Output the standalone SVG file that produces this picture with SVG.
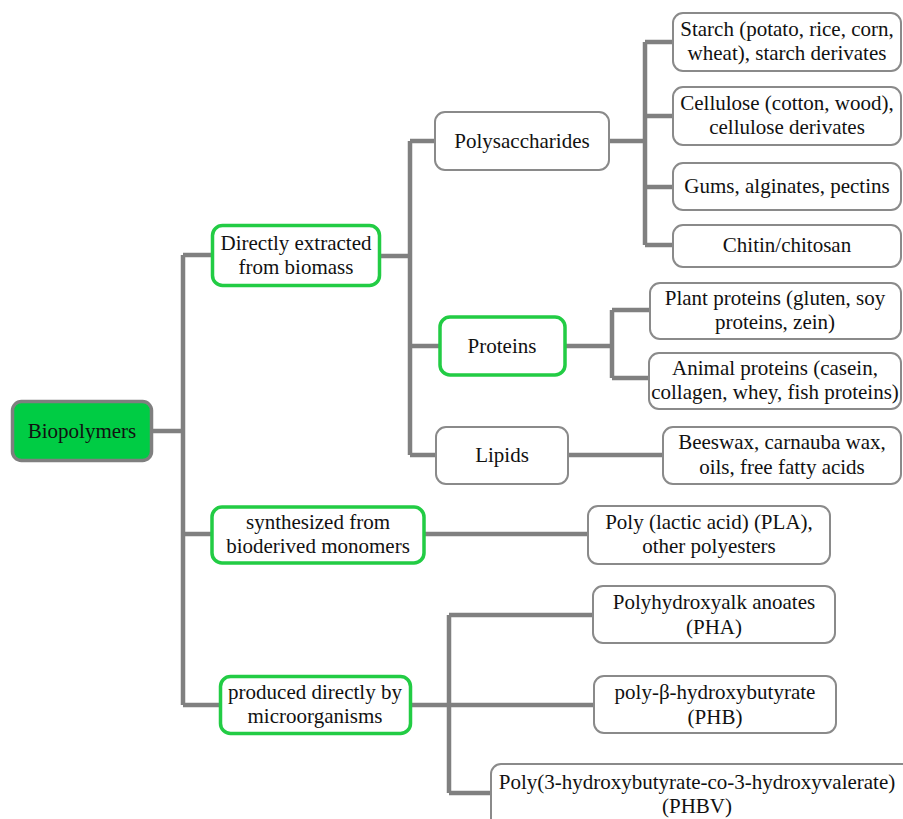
<svg xmlns="http://www.w3.org/2000/svg" width="903" height="819" viewBox="0 0 903 819">
<style>
.c{fill:none;stroke:#808080;stroke-width:4.5;stroke-linecap:butt}
.b{fill:#fff;stroke:#8a8a8a;stroke-width:2}
.g{fill:#fff;stroke:#22cc44;stroke-width:3.5}
text{font-family:'Liberation Serif','Times New Roman',Times,'DejaVu Serif',serif;font-size:21px;fill:#111;text-anchor:middle}
</style>
<rect width="903" height="819" fill="#fff"/>
<g id="connectors">
<path class="c" d="M152,431H183M183,255V705M183,255H212M183,534H212M183,705H220"/>
<path class="c" d="M380,256H410M410,141V455M410,141H435M410,346H440M410,455H436"/>
<path class="c" d="M609,141H645M645,42V245M645,42H673M645,116H673M645,187H673M645,245H673"/>
<path class="c" d="M565,346H612M612,310V378M612,310H650M612,378H649"/>
<path class="c" d="M568,455H663"/>
<path class="c" d="M424,534H588"/>
<path class="c" d="M410,705H449M449,615V793M449,615H593M449,705H594M449,793H491"/>
</g>
<g id="biopolymers">
<rect x="12.5" y="401.5" width="139" height="59" rx="9" fill="#00cc44" stroke="#7f7f7f" stroke-width="3.5"/>
<text x="82" y="438">Biopolymers</text>
</g>
<g id="direct">
<rect class="g" x="212.5" y="225.5" width="167" height="60" rx="10" stroke-width="5"/>
<text x="296" y="250">Directly extracted</text>
<text x="296" y="274">from biomass</text>
</g>
<g id="synth">
<rect class="g" x="212" y="507" width="212" height="56" rx="10"/>
<text x="318" y="529">synthesized from</text>
<text x="318" y="553">bioderived monomers</text>
</g>
<g id="produced">
<rect class="g" x="220.5" y="676.5" width="190" height="57" rx="10"/>
<text x="315" y="699">produced directly by</text>
<text x="315" y="723">microorganisms</text>
</g>
<g id="polysaccharides">
<rect class="b" x="435" y="112" width="174" height="58" rx="10"/>
<text x="522" y="148">Polysaccharides</text>
</g>
<g id="proteins">
<rect class="g" x="440" y="317" width="125" height="58" rx="10" stroke-width="4.5"/>
<text x="502" y="353">Proteins</text>
</g>
<g id="lipids">
<rect class="b" x="436" y="427" width="132" height="57" rx="10"/>
<text x="502" y="462">Lipids</text>
</g>
<g id="starch">
<rect class="b" x="673" y="13" width="228" height="58" rx="10"/>
<text x="787" y="36">Starch (potato, rice, corn,</text>
<text x="787" y="60">wheat), starch derivates</text>
</g>
<g id="cellulose">
<rect class="b" x="673" y="87" width="228" height="58" rx="10"/>
<text x="787" y="110">Cellulose (cotton, wood),</text>
<text x="787" y="134">cellulose derivates</text>
</g>
<g id="gums">
<rect class="b" x="673" y="163" width="228" height="47" rx="10"/>
<text x="787" y="193">Gums, alginates, pectins</text>
</g>
<g id="chitin">
<rect class="b" x="673" y="225" width="228" height="42" rx="10"/>
<text x="787" y="252">Chitin/chitosan</text>
</g>
<g id="plant">
<rect class="b" x="650" y="283" width="251" height="56" rx="10"/>
<text x="775" y="305">Plant proteins (gluten, soy</text>
<text x="775" y="329">proteins, zein)</text>
</g>
<g id="animal">
<rect class="b" x="649" y="353" width="252" height="56" rx="10"/>
<text x="775" y="375">Animal proteins (casein,</text>
<text x="775" y="399">collagen, whey, fish proteins)</text>
</g>
<g id="beeswax">
<rect class="b" x="663" y="427" width="238" height="57" rx="10"/>
<text x="782" y="449">Beeswax, carnauba wax,</text>
<text x="782" y="474">oils, free fatty acids</text>
</g>
<g id="pla">
<rect class="b" x="588" y="506" width="242" height="58" rx="10"/>
<text x="709" y="529">Poly (lactic acid) (PLA),</text>
<text x="709" y="553">other polyesters</text>
</g>
<g id="pha">
<rect class="b" x="593" y="586" width="242" height="57" rx="10"/>
<text x="714" y="609">Polyhydroxyalk anoates</text>
<text x="714" y="634">(PHA)</text>
</g>
<g id="phb">
<rect class="b" x="594" y="676" width="242" height="57" rx="10"/>
<text x="715" y="699">poly-β-hydroxybutyrate</text>
<text x="715" y="724">(PHB)</text>
</g>
<g id="phbv">
<rect class="b" x="491" y="764" width="430" height="70" rx="10"/>
<text x="697" y="789">Poly(3-hydroxybutyrate-co-3-hydroxyvalerate)</text>
<text x="697" y="813">(PHBV)</text>
</g>
</svg>
